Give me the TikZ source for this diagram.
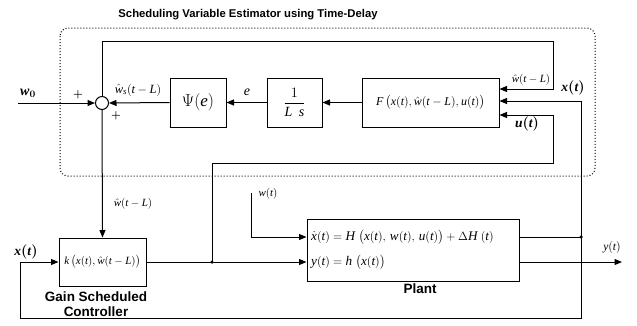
\documentclass[tikz,border=0pt]{standalone}
\usepackage{amsmath}
\usepackage[no-math]{fontspec}
\setmainfont{Liberation Serif}[NFSSFamily=libs]
\newfontfamily\labelfont{Liberation Sans}
\SetSymbolFont{letters}{normal}{TU}{libs}{m}{it}
\SetSymbolFont{letters}{bold}{TU}{libs}{b}{it}
\AtBeginDocument{\mathcode`\,="602C \mathcode`\.="002E}
\usetikzlibrary{arrows.meta,calc}
\begin{document}
\begin{tikzpicture}[x=1pt,y=-1pt,
  sig/.style={line width=1pt},
  arr/.style={sig,-{Triangle[length=7.5pt,width=6pt]}},
  blk/.style={draw,line width=1pt,inner sep=0pt},
  ttl/.style={font=\labelfont\bfseries\fontsize{11.3}{13}\selectfont},
  captxt/.style={font=\labelfont\bfseries\fontsize{13.5}{15}\selectfont,inner sep=0pt},
  sm/.style={font=\fontsize{11}{13}\selectfont,inner sep=1pt},
  md/.style={font=\fontsize{13.5}{15}\selectfont\boldmath,inner sep=1pt},
  jdot/.style={circle,fill,inner sep=0pt,minimum size=3.5pt}]
\useasboundingbox (0,0) rectangle (637,325);
% estimator frame
\draw[dotted,line width=1pt,rounded corners=8pt] (60,28) rectangle (595,176);
\node[ttl] (title) at (248,15) {Scheduling Variable Estimator using Time-Delay};
% blocks
\node[blk,circle,minimum size=13pt] (sum) at (102,103) {};
\node[blk,minimum width=56pt,minimum height=49pt,font=\fontsize{17}{19}\selectfont] (psi) at (198,102.5) {$\Psi(e)$};
\node[blk,minimum width=55pt,minimum height=49pt,font=\fontsize{14}{16}\selectfont] (ls) at (294.5,102.5) {$\dfrac{\;1\;}{L\;\,s}$};
\node[blk,minimum width=137pt,minimum height=49pt,font=\fontsize{12}{14}\selectfont] (F) at (430.5,102.5) {$F\,\big(x(t),\hat{w}(t-L),u(t)\big)$};
\node[blk,minimum width=87pt,minimum height=48pt,font=\fontsize{11}{13}\selectfont] (ctrl) at (102.5,262) {$k\,\big(x(t),\hat{w}(t-L)\big)$};
\node[blk,minimum width=212pt,minimum height=62pt] (plant) at (413,250) {};
\node[anchor=west,inner sep=0pt,font=\fontsize{13.2}{15}\selectfont] (eq1) at (311,237) {$\dot{x}(t)=H\;\big(x(t),\,w(t),\,u(t)\big)+\Delta H\;(t)$};
\node[anchor=west,inner sep=0pt,font=\fontsize{13.2}{15}\selectfont] (eq2) at (311,262) {$y(t)=h\;\big(x(t)\big)$};
\node[captxt] (gsc1) at (96,297) {Gain Scheduled};
\node[captxt] (gsc2) at (96,312) {Controller};
\node[captxt] (plantlbl) at (420,289) {Plant};
% coordinates
\coordinate (w0in) at (18,103);
\coordinate (tl) at (102,41);
\coordinate (tr) at (553,41);
\coordinate (fw) at ([yshift=13.5pt]F.east);
\coordinate (fx) at ([yshift=1.5pt]F.east);
\coordinate (fu) at ([yshift=-12.5pt]F.east);
\node[jdot] (jx) at (581,237) {};
\node[jdot] (ju) at (212,262) {};
\coordinate (xbr) at (581,318);
\coordinate (xbl) at (20,318);
\coordinate (xin) at (20,262);
\coordinate (ubl) at (212,163);
\coordinate (ubr) at (553,163);
\coordinate (wt) at (251,193);
\coordinate (yout) at (622,262);
% connectors
\draw[arr] (w0in) -- (sum.west);
\draw[arr] (psi.west) -- (sum.east);
\draw[arr] (ls.west) -- (psi.east);
\draw[arr] (F.west) -- (ls.east);
\draw[arr] (sum.north) -- (tl) -- (tr) |- (fw);
\draw[arr] (jx.center) |- (fx);
\draw[sig] ([yshift=13pt]plant.east) -- (jx.center);
\draw[arr] (jx.center) -- (xbr) -- (xbl) -- (xin) -- (ctrl.west);
\draw[arr] (ju.center) -- (ubl) -- (ubr) |- (fu);
\draw[sig] (ctrl.east) -- (ju.center);
\draw[arr] (ju.center) -- ([yshift=-12pt]plant.west);
\draw[arr] (wt) |- ([yshift=13pt]plant.west);
\draw[arr] (sum.south) -- (ctrl.north);
\draw[arr] ([yshift=-12pt]plant.east) -- (yout);
% labels
\node[font=\fontsize{14}{16}\selectfont\boldmath,inner sep=0pt] (lw0) at (28,93) {$w_0$};
\node[font=\fontsize{11}{12}\selectfont\boldmath,inner sep=0pt] (p1) at (78,95) {$+$};
\node[font=\fontsize{11}{12}\selectfont\boldmath,inner sep=0pt] (p2) at (116,116) {$+$};
\node[inner sep=0pt,font=\fontsize{12.5}{14}\selectfont] (lws) at (138,90) {$\hat{w}_s(t-L)$};
\node[inner sep=0pt,font=\fontsize{14}{16}\selectfont] (le) at (247,92) {$e$};
\node[sm] (lwF) at (531,80) {$\hat{w}(t-L)$};
\node[md] (lxF) at (573,88) {$x(t)$};
\node[md] (luF) at (527,124) {$u(t)$};
\node[sm] (lwc) at (133,204) {$\hat{w}(t-L)$};
\node[sm] (lwt) at (268,194) {$w(t)$};
\node[md] (lxc) at (26,252) {$x(t)$};
\node[inner sep=0pt,font=\fontsize{11.5}{13}\selectfont] (ly) at (612,247) {$y(t)$};
\end{tikzpicture}
\end{document}
